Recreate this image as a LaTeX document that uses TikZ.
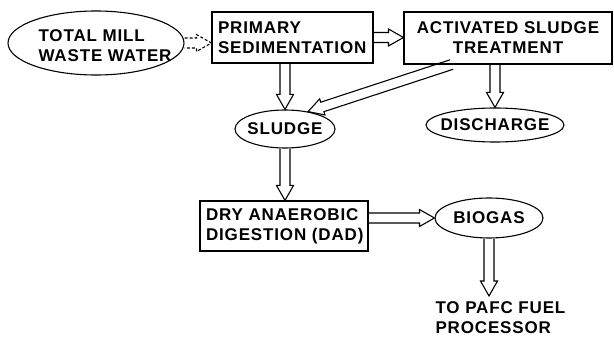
\documentclass[tikz,border=0pt]{standalone}
\usepackage{fontspec}
\setmainfont{Liberation Sans}[LetterSpace=5.0]
\usetikzlibrary{calc,shapes.geometric}
\begin{document}
\begin{tikzpicture}[x=1pt,y=-1pt,
  line width=1.1pt,
  every node/.style={font=\bfseries\fontsize{17}{20}\selectfont},
  oval/.style={draw,ellipse,inner sep=0pt},
  procbox/.style={draw,rectangle,inner xsep=6pt,inner ysep=0pt},
  blk/.style={line join=miter,to path={
    let \p1=(\tikztostart), \p2=(\tikztotarget),
        \n1={atan2(\y2-\y1,\x2-\x1)},
        \n2={veclen(\x2-\x1,\y2-\y1)}
    in ($(\p1)+(\n1+90:5pt)$)
    -- ($(\p1)+(\n1:{\n2*1pt-15pt})+(\n1+90:5pt)$)
    -- ($(\p1)+(\n1:{\n2*1pt-15pt})+(\n1+90:8.5pt)$)
    -- (\p2)
    -- ($(\p1)+(\n1:{\n2*1pt-15pt})+(\n1-90:8.5pt)$)
    -- ($(\p1)+(\n1:{\n2*1pt-15pt})+(\n1-90:5pt)$)
    -- ($(\p1)+(\n1-90:5pt)$)
  }}]
\useasboundingbox (0,0) rectangle (614,339);

\node[oval,minimum width=176pt,minimum height=64pt,
  label={[align=left,xshift=9pt,yshift=-3pt]center:TOTAL MILL\\WASTE WATER}] (tmw) at (96,43) {};
\node[procbox,minimum width=161pt,minimum height=51pt,text width=149pt,align=left] (prim) at (292.5,37.5) {PRIMARY\\SEDIMENTATION};
\node[procbox,minimum width=208pt,minimum height=52pt,text width=196pt,align=center] (act) at (508,38) {ACTIVATED SLUDGE\\TREATMENT};
\node[oval,minimum width=100pt,minimum height=38pt,label=center:SLUDGE] (sludge) at (285,129) {};
\node[oval,minimum width=138pt,minimum height=34pt,label=center:DISCHARGE] (disch) at (495,125) {};
\node[procbox,minimum width=168pt,minimum height=50pt,text width=156pt,align=left] (dad) at (284,226) {DRY ANAEROBIC\\DIGESTION (DAD)};
\node[oval,minimum width=108pt,minimum height=40pt,label=center:BIOGAS] (bio) at (489,218) {};
\node[align=left,anchor=north west,inner sep=0pt] (out) at (435,301) {TO PAFC FUEL\\PROCESSOR};

\coordinate (acttail) at ($(act.south west)!0.23!(act.south east)$);
\coordinate (outtop) at (489,296);

\draw[blk,dash pattern=on 3pt off 2pt] (tmw.east) to (tmw.east -| prim.west);
\draw[blk] (prim.east) to (prim.east -| act.west);
\draw[blk] (sludge.north |- prim.south) to (sludge.north);
\draw[blk] (acttail) to (sludge.37);
\draw[blk] (disch.north |- act.south) to (disch.north);
\draw[blk] (sludge.south) to (sludge.south |- dad.north);
\draw[blk] (bio.west -| dad.east) to (bio.west);
\draw[blk] (bio.south) to (outtop);
\end{tikzpicture}
\end{document}
